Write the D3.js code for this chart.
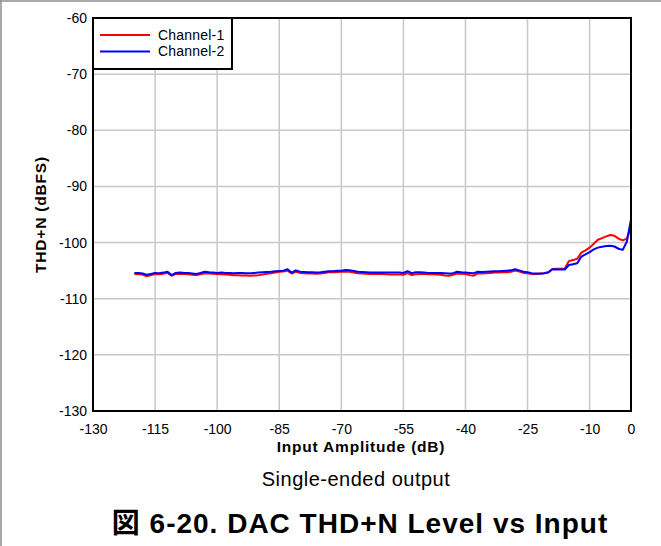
<!DOCTYPE html>
<html>
<head>
<meta charset="utf-8">
<script src="https://cdn.jsdelivr.net/npm/d3@7/dist/d3.min.js"></script>
<style>
  html, body { margin: 0; padding: 0; background: #fff; }
  svg { display: block; font-family: "Liberation Sans", Arial, sans-serif; }
</style>
</head>
<body>
<svg id="chart" width="661" height="546"></svg>
<script>
// ---- Data ----
const inputAmplitude = d3.range(-120, 1, 1); // dB, -120 .. 0

const channel1 = [
  -105.6, -105.65, -105.7, -106.0, -105.8, -105.6, -105.65, -105.55, -105.4, -105.9,
  -105.6, -105.55, -105.6, -105.65, -105.75, -105.8, -105.65, -105.45, -105.5, -105.55,
  -105.6, -105.65, -105.7, -105.75, -105.8, -105.8, -105.85, -105.85, -105.9, -105.85,
  -105.8, -105.7, -105.55, -105.45, -105.35, -105.2, -105.15, -105.0, -105.5, -105.2,
  -105.4, -105.45, -105.5, -105.5, -105.55, -105.5, -105.4, -105.3, -105.3, -105.25,
  -105.2, -105.15, -105.2, -105.35, -105.45, -105.5, -105.55, -105.6, -105.6, -105.6,
  -105.6, -105.65, -105.7, -105.7, -105.7, -105.75, -105.45, -105.8, -105.65, -105.6,
  -105.6, -105.65, -105.65, -105.7, -105.75, -105.85, -105.9, -105.75, -105.5, -105.55,
  -105.6, -105.8, -105.9, -105.5, -105.5, -105.45, -105.4, -105.35, -105.35, -105.3,
  -105.3, -105.2, -105.0, -105.15, -105.4, -105.45, -105.6, -105.6, -105.5, -105.45,
  -105.35, -104.7, -104.65, -104.65, -104.6, -103.3, -103.1, -102.9, -101.8, -101.4,
  -100.9, -100.2, -99.5, -99.2, -98.9, -98.65, -98.8, -99.3, -99.6, -99.3,
  -97.3
];

const channel2 = [
  -105.4, -105.4, -105.5, -105.75, -105.6, -105.4, -105.45, -105.35, -105.2, -105.8,
  -105.4, -105.35, -105.4, -105.4, -105.5, -105.6, -105.4, -105.2, -105.3, -105.35,
  -105.4, -105.35, -105.4, -105.4, -105.45, -105.4, -105.4, -105.45, -105.45, -105.4,
  -105.35, -105.3, -105.25, -105.2, -105.1, -105.05, -105.0, -104.75, -105.35, -104.95,
  -105.2, -105.25, -105.3, -105.3, -105.35, -105.3, -105.2, -105.1, -105.1, -105.0,
  -105.0, -104.9, -104.95, -105.05, -105.2, -105.25, -105.3, -105.35, -105.35, -105.35,
  -105.35, -105.35, -105.35, -105.35, -105.35, -105.4, -105.1, -105.45, -105.3, -105.3,
  -105.35, -105.4, -105.4, -105.4, -105.4, -105.45, -105.5, -105.45, -105.2, -105.3,
  -105.35, -105.4, -105.45, -105.2, -105.25, -105.2, -105.15, -105.1, -105.1, -105.05,
  -105.0, -104.95, -104.75, -104.95, -105.2, -105.3, -105.45, -105.5, -105.55, -105.45,
  -105.3, -104.75, -104.8, -104.8, -104.8, -104.0, -103.85, -103.7, -102.5, -102.1,
  -101.7, -101.2, -100.9, -100.75, -100.6, -100.55, -100.7, -101.1, -101.3, -99.8,
  -95.9
];

const xTicks = [-130, -115, -100, -85, -70, -55, -40, -25, -10, 0];
const yTicks = [-60, -70, -80, -90, -100, -110, -120, -130];
const seriesNames = ["Channel-1", "Channel-2"];
const seriesColors = ["#ff0000", "#0000ff"];

// ---- Layout ----
const svg = d3.select("#chart");
const W = 661, H = 546;
const plot = { left: 93, right: 631, top: 18, bottom: 411 };
const fmt = d => String(d);

const x = d3.scaleLinear().domain([-130, 0]).range([plot.left, plot.right]);
const y = d3.scaleLinear().domain([-130, -60]).range([plot.bottom, plot.top]);

// outer figure border (left & top)
svg.append("line").attr("x1", 1).attr("x2", 1).attr("y1", 0).attr("y2", H)
  .attr("stroke", "#8c8c8c").attr("stroke-width", 1.5);
svg.append("line").attr("x1", 0).attr("x2", W).attr("y1", 1).attr("y2", 1)
  .attr("stroke", "#8c8c8c").attr("stroke-width", 1.5);

// gridlines
const grid = svg.append("g");
grid.selectAll("line.vx").data(xTicks.filter(t => t > -130 && t < 0)).enter()
  .append("line")
  .attr("x1", d => x(d)).attr("x2", d => x(d))
  .attr("y1", plot.top).attr("y2", plot.bottom)
  .attr("stroke", "#c8c8c8").attr("stroke-width", 1.5);
grid.selectAll("line.hy").data(yTicks.filter(t => t > -130 && t < -60)).enter()
  .append("line")
  .attr("x1", plot.left).attr("x2", plot.right)
  .attr("y1", d => y(d)).attr("y2", d => y(d))
  .attr("stroke", "#c8c8c8").attr("stroke-width", 1.5);

// axes (labels only)
const xAxis = d3.axisBottom(x).tickValues(xTicks).tickSize(0).tickPadding(13).tickFormat(fmt);
const gx = svg.append("g").attr("transform", `translate(0,${plot.bottom})`).call(xAxis);
gx.select(".domain").remove();
gx.selectAll("text").attr("font-size", 14).attr("fill", "#000")
  .attr("font-family", "Liberation Sans, Arial, sans-serif");

const yAxis = d3.axisLeft(y).tickValues(yTicks).tickSize(0).tickPadding(6).tickFormat(fmt);
const gy = svg.append("g").attr("transform", `translate(${plot.left},0)`).call(yAxis);
gy.select(".domain").remove();
gy.selectAll("text").attr("font-size", 14).attr("fill", "#000")
  .attr("font-family", "Liberation Sans, Arial, sans-serif");

// data lines
const line = d3.line().x((d, i) => x(inputAmplitude[i])).y(d => y(d));
svg.append("clipPath").attr("id", "clip").append("rect")
  .attr("x", plot.left).attr("y", plot.top)
  .attr("width", plot.right - plot.left).attr("height", plot.bottom - plot.top);
[channel1, channel2].forEach((s, k) => {
  svg.append("path").datum(s)
    .attr("d", line)
    .attr("fill", "none")
    .attr("stroke", seriesColors[k])
    .attr("stroke-width", 2)
    .attr("stroke-linejoin", "round")
    .attr("clip-path", "url(#clip)");
});

// plot frame
svg.append("rect")
  .attr("x", plot.left).attr("y", plot.top)
  .attr("width", plot.right - plot.left).attr("height", plot.bottom - plot.top)
  .attr("fill", "none").attr("stroke", "#000").attr("stroke-width", 2);

// legend
const lg = svg.append("g");
lg.append("rect").attr("x", plot.left).attr("y", plot.top).attr("width", 139).attr("height", 51)
  .attr("fill", "#fff").attr("stroke", "#000").attr("stroke-width", 2);
seriesNames.forEach((n, k) => {
  const yy = 35 + k * 16.5;
  lg.append("line").attr("x1", 100).attr("x2", 150).attr("y1", yy).attr("y2", yy)
    .attr("stroke", seriesColors[k]).attr("stroke-width", 2);
  lg.append("text").attr("x", 158).attr("y", yy).attr("dy", "0.35em")
    .attr("font-size", 14).attr("letter-spacing", 0.2).text(n);
});

// axis titles
svg.append("text").attr("x", 361).attr("y", 447).attr("dy", "0.35em")
  .attr("text-anchor", "middle").attr("font-size", 15.5).attr("font-weight", "bold")
  .attr("letter-spacing", 0.8)
  .text("Input Amplitude (dB)");
svg.append("text")
  .attr("transform", `translate(41,${(plot.top + plot.bottom) / 2}) rotate(-90)`)
  .attr("dy", "0.35em")
  .attr("text-anchor", "middle").attr("font-size", 15.5).attr("font-weight", "bold")
  .attr("letter-spacing", 0.8)
  .text("THD+N (dBFS)");

// subtitle
svg.append("text").attr("x", 356).attr("y", 479).attr("dy", "0.35em")
  .attr("text-anchor", "middle").attr("font-size", 20).attr("letter-spacing", 0.5)
  .text("Single-ended output");

// caption
svg.append("text").attr("x", 360).attr("y", 523).attr("dy", "0.35em")
  .attr("text-anchor", "middle").attr("font-size", 28).attr("font-weight", "bold")
  .attr("letter-spacing", 1)
  .attr("font-family", "'Liberation Sans', 'Noto Sans CJK JP', Arial, sans-serif")
  .text("図 6-20. DAC THD+N Level vs Input");
</script>
</body>
</html>
